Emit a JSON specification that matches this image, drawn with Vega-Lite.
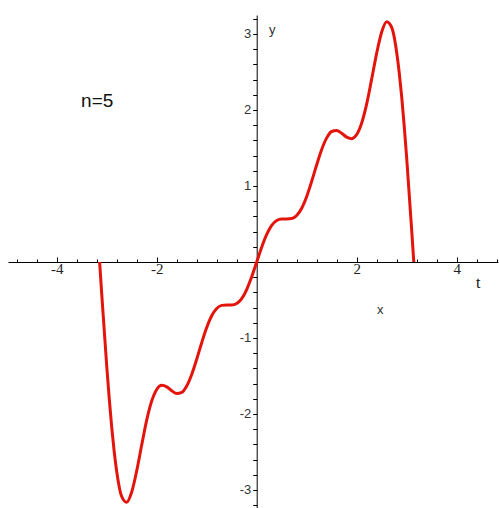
{
  "$schema": "https://vega.github.io/schema/vega-lite/v6.json",
  "autosize": "none",
  "width": 490,
  "height": 493,
  "padding": {"left": 8, "top": 15, "right": 1, "bottom": 0},
  "background": "white",
  "config": {"view": {"stroke": null}},
  "layer": [
    {
      "data": {
        "values": [
          {"x": -3.1416, "y": 0},
          {"x": -3.1, "y": -0.415},
          {"x": -3.0, "y": -1.365},
          {"x": -2.95, "y": -1.791},
          {"x": -2.9, "y": -2.172},
          {"x": -2.85, "y": -2.494},
          {"x": -2.8, "y": -2.756},
          {"x": -2.7, "y": -3.086},
          {"x": -2.6, "y": -3.162},
          {"x": -2.5, "y": -3.027},
          {"x": -2.4, "y": -2.749},
          {"x": -2.3, "y": -2.409},
          {"x": -2.2, "y": -2.081},
          {"x": -2.1, "y": -1.83},
          {"x": -2.0, "y": -1.677},
          {"x": -1.9, "y": -1.623},
          {"x": -1.8, "y": -1.643},
          {"x": -1.7, "y": -1.694},
          {"x": -1.6, "y": -1.731},
          {"x": -1.5, "y": -1.717},
          {"x": -1.4, "y": -1.633},
          {"x": -1.3, "y": -1.481},
          {"x": -1.2, "y": -1.28},
          {"x": -1.1, "y": -1.062},
          {"x": -1.0, "y": -0.863},
          {"x": -0.9, "y": -0.708},
          {"x": -0.8, "y": -0.612},
          {"x": -0.7, "y": -0.571},
          {"x": -0.6, "y": -0.565},
          {"x": -0.5, "y": -0.567},
          {"x": -0.4, "y": -0.547},
          {"x": -0.3, "y": -0.482},
          {"x": -0.2, "y": -0.362},
          {"x": -0.1, "y": -0.195},
          {"x": 0, "y": 0},
          {"x": 0.1, "y": 0.195},
          {"x": 0.2, "y": 0.362},
          {"x": 0.3, "y": 0.482},
          {"x": 0.4, "y": 0.547},
          {"x": 0.5, "y": 0.567},
          {"x": 0.6, "y": 0.565},
          {"x": 0.7, "y": 0.571},
          {"x": 0.8, "y": 0.612},
          {"x": 0.9, "y": 0.708},
          {"x": 1.0, "y": 0.863},
          {"x": 1.1, "y": 1.062},
          {"x": 1.2, "y": 1.28},
          {"x": 1.3, "y": 1.481},
          {"x": 1.4, "y": 1.633},
          {"x": 1.5, "y": 1.717},
          {"x": 1.6, "y": 1.731},
          {"x": 1.7, "y": 1.694},
          {"x": 1.8, "y": 1.643},
          {"x": 1.9, "y": 1.623},
          {"x": 2.0, "y": 1.677},
          {"x": 2.1, "y": 1.83},
          {"x": 2.2, "y": 2.081},
          {"x": 2.3, "y": 2.409},
          {"x": 2.4, "y": 2.749},
          {"x": 2.5, "y": 3.027},
          {"x": 2.6, "y": 3.162},
          {"x": 2.7, "y": 3.086},
          {"x": 2.8, "y": 2.756},
          {"x": 2.85, "y": 2.494},
          {"x": 2.9, "y": 2.172},
          {"x": 2.95, "y": 1.791},
          {"x": 3.0, "y": 1.365},
          {"x": 3.1, "y": 0.415},
          {"x": 3.1416, "y": 0}
        ]
      },
      "mark": {"type": "line", "color": "#e3140c", "strokeWidth": 3, "interpolate": "monotone"},
      "encoding": {
        "x": {
          "field": "x",
          "type": "quantitative",
          "scale": {"domain": [-4.974, 4.826], "nice": false, "zero": false},
          "axis": {
            "orient": "bottom",
            "offset": -246,
            "title": null,
            "grid": false,
            "tickCount": 100,
            "values": [-4.8, -4.4, -4, -3.6, -3.2, -2.8, -2.4, -2, -1.6, -1.2, -0.8, -0.4, 0.4, 0.8, 1.2, 1.6, 2, 2.4, 2.8, 3.2, 3.6, 4, 4.4, 4.8],
            "labelExpr": "indexof([-4, -2, 2, 4], datum.value) >= 0 ? '' + datum.value : ''",
            "tickSize": {"condition": {"test": "indexof([-4, -2, 2, 4], datum.value) >= 0", "value": -5}, "value": -3},
            "domainColor": "#000000",
            "tickColor": "#000000",
            "labelFont": "Liberation Serif",
            "labelFontSize": 15,
            "labelColor": "#222222",
            "labelPadding": 4,
            "labelBound": false,
            "labelOverlap": false,
            "labelFlush": false
          }
        },
        "y": {
          "field": "y",
          "type": "quantitative",
          "scale": {"domain": [-3.237, 3.25], "nice": false, "zero": false},
          "axis": {
            "orient": "left",
            "offset": -248.7,
            "title": null,
            "grid": false,
            "tickCount": 100,
            "values": [-3.2, -3, -2.8, -2.6, -2.4, -2.2, -2, -1.8, -1.6, -1.4, -1.2, -1, -0.8, -0.6, -0.4, -0.2, 0.2, 0.4, 0.6, 0.8, 1, 1.2, 1.4, 1.6, 1.8, 2, 2.2, 2.4, 2.6, 2.8, 3, 3.2],
            "labelExpr": "datum.value == round(datum.value) ? '' + datum.value : ''",
            "tickSize": 4,
            "domainColor": "#000000",
            "tickColor": "#000000",
            "labelFont": "Liberation Sans",
            "labelFontSize": 13,
            "labelColor": "#333333",
            "labelPadding": 2,
            "labelBound": false,
            "labelOverlap": false,
            "labelFlush": false
          }
        }
      }
    },
    {
      "data": {"values": [{"x": -3.19, "y": 2.12, "label": "n=5"}]},
      "mark": {"type": "text", "font": "Liberation Sans", "fontSize": 19, "color": "#111111"},
      "encoding": {
        "x": {"field": "x", "type": "quantitative"},
        "y": {"field": "y", "type": "quantitative"},
        "text": {"field": "label"}
      }
    },
    {
      "data": {"values": [{"x": 0.31, "y": 3.05, "label": "y"}, {"x": 2.47, "y": -0.63, "label": "x"}]},
      "mark": {"type": "text", "font": "Liberation Sans", "fontSize": 13, "color": "#333333"},
      "encoding": {
        "x": {"field": "x", "type": "quantitative"},
        "y": {"field": "y", "type": "quantitative"},
        "text": {"field": "label"}
      }
    },
    {
      "data": {"values": [{"x": 4.43, "y": -0.28, "label": "t"}]},
      "mark": {"type": "text", "font": "Liberation Serif", "fontSize": 16, "color": "#111111"},
      "encoding": {
        "x": {"field": "x", "type": "quantitative"},
        "y": {"field": "y", "type": "quantitative"},
        "text": {"field": "label"}
      }
    }
  ]
}
